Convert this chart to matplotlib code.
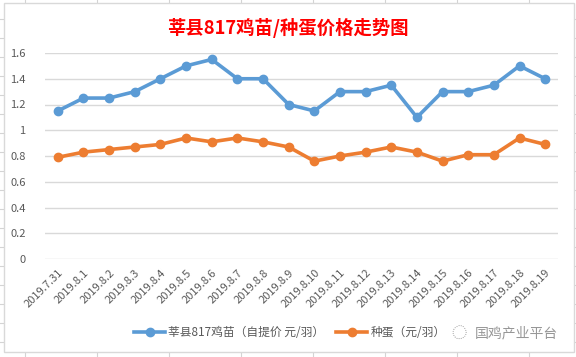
import numpy as np
import matplotlib.pyplot as plt
from matplotlib.lines import Line2D
from matplotlib.patches import Rectangle

plt.rcParams['font.family'] = ['Noto Sans CJK SC', 'DejaVu Sans']

dates = ['2019.7.31', '2019.8.1', '2019.8.2', '2019.8.3', '2019.8.4', '2019.8.5',
         '2019.8.6', '2019.8.7', '2019.8.8', '2019.8.9', '2019.8.10', '2019.8.11',
         '2019.8.12', '2019.8.13', '2019.8.14', '2019.8.15', '2019.8.16', '2019.8.17',
         '2019.8.18', '2019.8.19']
chick_price = [1.15, 1.25, 1.25, 1.30, 1.40, 1.50, 1.55, 1.40, 1.40, 1.20, 1.15,
               1.30, 1.30, 1.35, 1.10, 1.30, 1.30, 1.35, 1.50, 1.40]
egg_price = [0.79, 0.83, 0.85, 0.87, 0.89, 0.94, 0.91, 0.94, 0.91, 0.87, 0.76,
             0.80, 0.83, 0.87, 0.83, 0.76, 0.81, 0.81, 0.94, 0.89]
yticks = [0, 0.2, 0.4, 0.6, 0.8, 1.0, 1.2, 1.4, 1.6]
ytick_labels = ['0', '0.2', '0.4', '0.6', '0.8', '1', '1.2', '1.4', '1.6']

blue = '#5B9BD5'
orange = '#ED7D31'
text_grey = '#595959'

W, H = 576, 357
fig = plt.figure(figsize=(W / 100, H / 100), dpi=100)

# spreadsheet cells peeking out around the chart
for x in range(25, W, 72):
    fig.add_artist(Line2D([x / W, x / W], [0, 1], color='#d4d4d4', lw=0.8, zorder=-3))
for y in range(19, H, 19):
    fig.add_artist(Line2D([0, 1], [1 - y / H, 1 - y / H], color='#d4d4d4', lw=0.8, zorder=-3))
fig.add_artist(Rectangle((4 / W, 1 - 352 / H), 570 / W, 349 / H, transform=fig.transFigure,
                         facecolor='white', edgecolor='#d9d9d9', lw=1, zorder=-2))

ax = fig.add_axes([45 / W, 1 - 259 / H, 513 / W, 206 / H])
ax.patch.set_visible(False)
x = np.arange(len(dates))
ax.plot(x, chick_price, color=blue, lw=2.6, marker='o', ms=6, label='莘县817鸡苗（自提价 元/羽）')
ax.plot(x, egg_price, color=orange, lw=2.6, marker='o', ms=6, label='种蛋（元/羽）')

ax.set_xlim(-0.5, len(dates) - 0.5)
ax.set_ylim(0, 1.6)
ax.set_yticks(yticks)
ax.set_yticklabels(ytick_labels)
ax.set_xticks(x)
ax.set_xticklabels(dates, rotation=45, ha='right', rotation_mode='anchor')
ax.tick_params(axis='both', length=0, colors=text_grey, labelsize=8)
ax.tick_params(axis='y', pad=14)
ax.tick_params(axis='x', pad=6)
ax.grid(axis='y', color='#d9d9d9', lw=1)
ax.set_axisbelow(True)
for s in ax.spines.values():
    s.set_visible(False)

fig.text(0.5, 1 - 28 / H, '莘县817鸡苗/种蛋价格走势图', color='red', fontsize=13.2,
         fontweight='bold', ha='center', va='center')

fig.legend(loc='center', bbox_to_anchor=(290 / W, 1 - 333 / H), ncol=2, frameon=False,
           fontsize=8.5, labelcolor=text_grey, handlelength=2.6, columnspacing=1.0,
           handletextpad=0.3)

fig.text(459 / W, 1 - 333 / H, '◌', color='#a0a0a0', fontsize=11, ha='center', va='center')
fig.text(516 / W, 1 - 333 / H, '国鸡产业平台', color='#8c8c8c', fontsize=10,
         ha='center', va='center', alpha=0.9)

fig.savefig('out.png', dpi=100)
